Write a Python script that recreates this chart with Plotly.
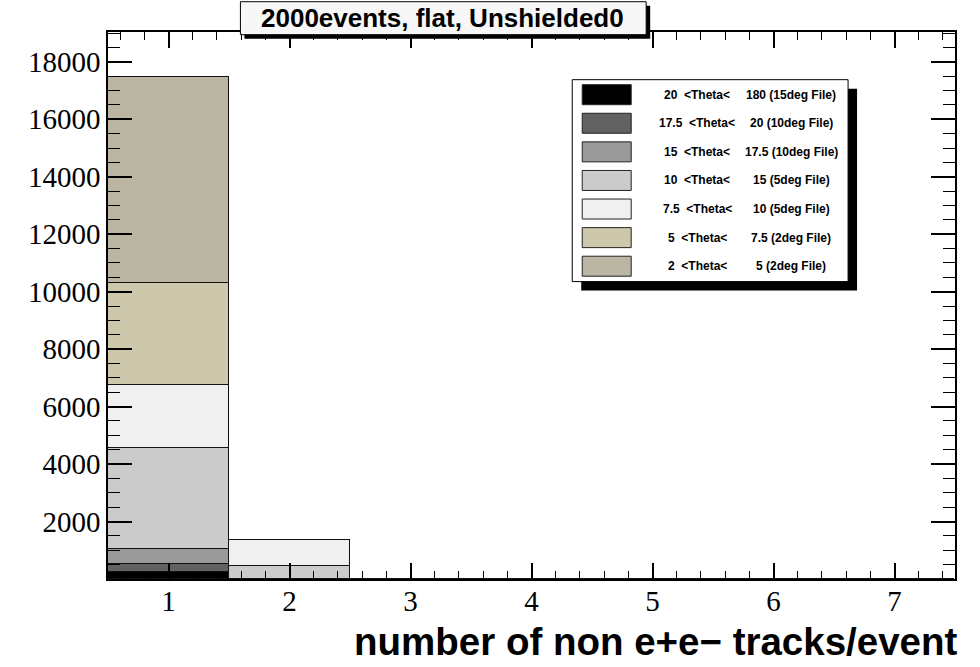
import plotly.graph_objects as go

# ---------------- data ----------------
bins = [1, 2, 3, 4, 5, 6, 7]
theta_lo = ["20", "17.5", "15", "10", "7.5", "5", "2"]
theta_hi = ["180", "20", "17.5", "15", "10", "7.5", "5"]
file_tag = ["15deg", "10deg", "10deg", "5deg", "5deg", "2deg", "2deg"]
colors = ["#000000", "#626262", "#9a9a9a", "#cbcbcb", "#f0f0f0", "#cdc8ab", "#bbb5a4"]

# counts per bin (stack order bottom -> top)
c_20_180 = [250, 0, 0, 0, 0, 0, 0]
c_175_20 = [280, 0, 0, 0, 0, 0, 0]
c_15_175 = [500, 0, 0, 0, 0, 0, 0]
c_10_15 = [3520, 460, 0, 0, 0, 0, 0]
c_75_10 = [2190, 885, 0, 0, 0, 0, 0]
c_5_75 = [3570, 0, 0, 0, 0, 0, 0]
c_2_5 = [7180, 0, 0, 0, 0, 0, 0]
series = [c_20_180, c_175_20, c_15_175, c_10_15, c_75_10, c_5_75, c_2_5]

y_ticks = [2000, 4000, 6000, 8000, 10000, 12000, 14000, 16000, 18000]
x_ticks = [1, 2, 3, 4, 5, 6, 7]
title_text = "2000events, flat, Unshielded0"
xaxis_title = "number of non e+e\u2212 tracks/event"

# ---------------- layout geometry (pixels) ----------------
W, H = 980, 667
L, R, T, B = 107.5, 955.0, 32.3, 579.5
pw, ph = R - L, B - T


def px(x):
    return (x - L) / pw


def py(y):
    return (B - y) / ph


fig = go.Figure()
for i, vals in enumerate(series):
    fig.add_trace(go.Bar(
        x=bins, y=vals, width=1.0,
        name=f"{theta_lo[i]} <Theta< {theta_hi[i]} ({file_tag[i]} File)",
        marker=dict(color=colors[i], line=dict(color="#111111", width=1.5)),
        showlegend=False,
    ))

shapes = []
annotations = []

# title box with shadow
shapes.append(dict(type="rect", xref="paper", yref="paper", layer="above",
                   x0=px(244), x1=px(650), y0=py(39), y1=py(6),
                   fillcolor="#000000", line=dict(width=0)))
shapes.append(dict(type="rect", xref="paper", yref="paper", layer="above",
                   x0=px(240), x1=px(646), y0=py(35), y1=py(2),
                   fillcolor="#f7f7f7", line=dict(color="#000000", width=1)))
annotations.append(dict(xref="paper", yref="paper", x=px(442), y=py(18.5),
                        xanchor="center", yanchor="middle", showarrow=False,
                        text=title_text,
                        font=dict(family="Liberation Sans", size=26, color="#000000",
                                  weight="bold")))

# legend box with shadow
shapes.append(dict(type="rect", xref="paper", yref="paper", layer="above",
                   x0=px(581), x1=px(857), y0=py(291), y1=py(89),
                   fillcolor="#000000", line=dict(width=0)))
shapes.append(dict(type="rect", xref="paper", yref="paper", layer="above",
                   x0=px(572), x1=px(848), y0=py(282), y1=py(80),
                   fillcolor="#ffffff", line=dict(color="#000000", width=1)))
row0, drow = 95.0, 28.6
for i in range(len(series)):
    yc = row0 + i * drow
    shapes.append(dict(type="rect", xref="paper", yref="paper", layer="above",
                       x0=px(582), x1=px(631), y0=py(yc + 10), y1=py(yc - 10),
                       fillcolor=colors[i], line=dict(color="#222222", width=1)))
    annotations.append(dict(xref="paper", yref="paper", x=px(697), y=py(yc),
                            xanchor="center", yanchor="middle", showarrow=False,
                            text=f"{theta_lo[i]}&nbsp;&nbsp;&lt;Theta&lt;",
                            font=dict(family="Liberation Sans", size=12,
                                      color="#000000", weight="bold")))
    annotations.append(dict(xref="paper", yref="paper", x=px(791), y=py(yc),
                            xanchor="center", yanchor="middle", showarrow=False,
                            text=f"{theta_hi[i]} ({file_tag[i]} File)",
                            font=dict(family="Liberation Sans", size=12,
                                      color="#000000", weight="bold")))

# x-axis title
annotations.append(dict(xref="paper", yref="paper", x=px(960), y=py(642),
                        xanchor="right", yanchor="middle", showarrow=False,
                        text=xaxis_title,
                        font=dict(family="Liberation Sans", size=38.5, color="#000000",
                                  weight="bold")))

tickfont = dict(family="Liberation Serif", size=29, color="#000000")

fig.update_layout(
    width=W, height=H,
    margin=dict(l=L, r=W - R, t=T, b=H - B, pad=0),
    paper_bgcolor="#ffffff", plot_bgcolor="#ffffff",
    barmode="stack", bargap=0,
    shapes=shapes, annotations=annotations,
    xaxis=dict(range=[0.5, 7.5], tickmode="array", tickvals=x_ticks,
               ticktext=[str(v) for v in x_ticks],
               ticks="inside", ticklen=16, tickwidth=1.5, tickcolor="#000000",
               showline=True, linewidth=1.5, linecolor="#000000", mirror="allticks",
               showgrid=False, zeroline=False, tickfont=tickfont,
               ticklabelstandoff=-5,
               minor=dict(tickmode="linear", tick0=0, dtick=0.2, ticks="inside",
                          ticklen=8, tickwidth=1, tickcolor="#000000", showgrid=False)),
    yaxis=dict(range=[0, 19040], tickmode="array", tickvals=y_ticks,
               ticktext=[str(v) for v in y_ticks],
               ticks="inside", ticklen=24, tickwidth=1.5, tickcolor="#000000",
               showline=True, linewidth=1.5, linecolor="#000000", mirror="allticks",
               showgrid=False, zeroline=False, tickfont=tickfont,
               ticklabelstandoff=0,
               minor=dict(tickmode="linear", tick0=0, dtick=500, ticks="inside",
                          ticklen=12, tickwidth=1, tickcolor="#000000", showgrid=False)),
)

fig.write_html("out.html")
